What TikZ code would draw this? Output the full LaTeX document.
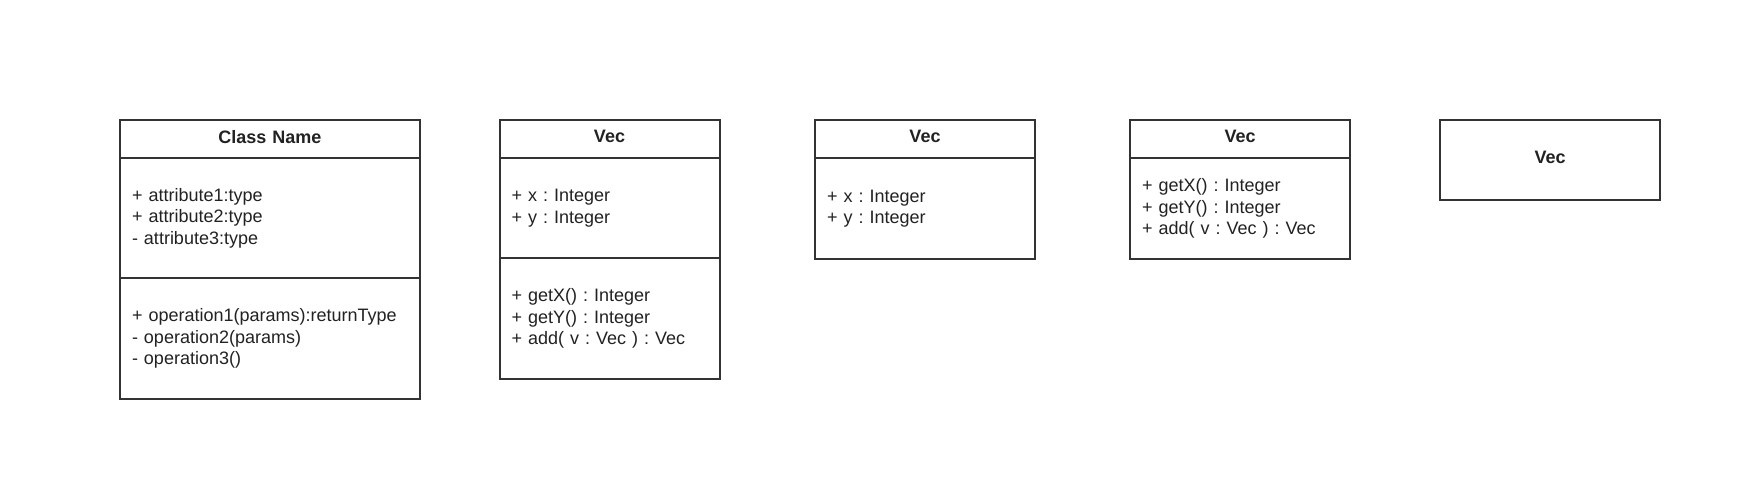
\documentclass[tikz,border=0pt]{standalone}
\usepackage{fontspec}
\setmainfont{Liberation Sans}
\frenchspacing
\definecolor{strokegray}{HTML}{333333}
\definecolor{inkgray}{HTML}{222222}
\tikzset{
  comp/.style={draw=strokegray, line width=2pt, rectangle, anchor=north west,
    inner xsep=12pt, inner ysep=0pt, outer sep=0pt, align=left,
    font=\fontsize{18}{21.6}\selectfont\frenchspacing, text=inkgray},
  headbox/.style={comp, align=center, text depth=5pt,
    font=\fontsize{18}{21.6}\selectfont\bfseries},
}
\begin{document}
\begin{tikzpicture}[x=1pt,y=-1pt]
\useasboundingbox[fill=white] (0,0) rectangle (1760,485);

% Box 1: Class Name
\node[comp, text width=276pt, minimum height=120pt] (c1attr) at (120,158)
  {+ attribute1:type\\+ attribute2:type\\- attribute3:type};
\node[comp, text width=276pt, minimum height=121pt] (c1ops) at (120,278)
  {+ operation1(params):returnType\\- operation2(params)\\- operation3()};
\node[headbox, text width=276pt, minimum height=38pt] (c1head) at (120,120) {Class Name};

% Box 2: Vec full
\node[comp, text width=196pt, minimum height=100pt] (c2attr) at (499.5,158)
  {+ x : Integer\\+ y : Integer};
\node[comp, text width=196pt, minimum height=121pt] (c2ops) at (499.5,258)
  {+ getX() : Integer\\+ getY() : Integer\\+ add( v : Vec ) : Vec};
\node[headbox, text width=196pt, minimum height=38pt] (c2head) at (499.5,120) {Vec};

% Box 3: Vec attributes only
\node[comp, text width=196pt, minimum height=101pt] (c3attr) at (815,158)
  {+ x : Integer\\+ y : Integer};
\node[headbox, text width=196pt, minimum height=38pt] (c3head) at (815,120) {Vec};

% Box 4: Vec operations only
\node[comp, text width=196pt, minimum height=101pt] (c4ops) at (1130,158)
  {+ getX() : Integer\\+ getY() : Integer\\+ add( v : Vec ) : Vec};
\node[headbox, text width=196pt, minimum height=38pt] (c4head) at (1130,120) {Vec};

% Box 5: Vec name only
\node[headbox, text width=196pt, minimum height=80pt] (c5head) at (1440,120) {Vec};
\end{tikzpicture}
\end{document}
